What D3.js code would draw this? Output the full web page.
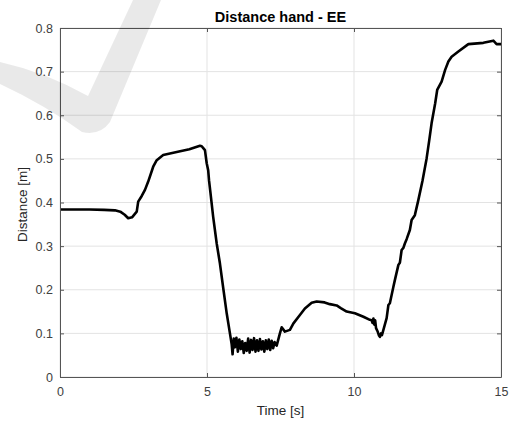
<!DOCTYPE html>
<html>
<head>
<meta charset="utf-8">
<script src="https://cdn.jsdelivr.net/npm/d3@7"></script>
<style>
  body { margin: 0; background: #fff; }
  text { font-family: "Liberation Sans", Arial, sans-serif; }
</style>
</head>
<body>
<script>
const w = 511;
const h = 421;

// chart data
const xTicks = [0, 5, 10, 15];
const yTicks = [0, 0.1, 0.2, 0.3, 0.4, 0.5, 0.6, 0.7, 0.8];

const time = [
  0, 0.5, 1.0, 1.5, 1.87, 2.05, 2.2, 2.32, 2.45, 2.61, 2.66, 2.78, 2.89, 3.0, 3.17, 3.29, 3.51, 3.97, 4.4, 4.76, 4.82, 4.88, 4.93, 4.99, 5.04, 5.07, 5.12, 5.21, 5.33, 5.44, 5.56, 5.67, 5.78,
  5.84, 5.87, 5.91, 5.95, 6.0, 6.05, 6.1, 6.15, 6.2, 6.25, 6.3, 6.35, 6.4, 6.45, 6.5, 6.55, 6.6, 6.65, 6.7, 6.75, 6.8, 6.85, 6.9, 6.95, 7.0, 7.05, 7.1, 7.15, 7.2, 7.25, 7.3,
  7.37, 7.48, 7.54, 7.65, 7.82, 7.94, 8.16, 8.33, 8.56, 8.73, 9.0, 9.18, 9.41, 9.55, 9.75, 10.03, 10.32, 10.54,
  10.6, 10.63, 10.66, 10.69, 10.72, 10.75, 10.8, 10.85, 10.88, 10.92, 10.95, 11.0,
  11.11, 11.17, 11.22, 11.34, 11.39, 11.51, 11.56, 11.62, 11.68, 11.73, 11.79, 11.9, 11.96, 12.07, 12.19, 12.33, 12.47, 12.56, 12.64, 12.76, 12.83, 12.98, 13.1, 13.21, 13.32, 13.55, 13.89, 14.4, 14.74, 14.85, 15.0
];

const distance = [
  0.384, 0.384, 0.384, 0.383, 0.382, 0.379, 0.372, 0.364, 0.366, 0.379, 0.402, 0.415, 0.429, 0.448, 0.482, 0.497, 0.509, 0.516, 0.522, 0.530, 0.529, 0.524, 0.52, 0.49, 0.474, 0.45, 0.421, 0.367, 0.306, 0.26, 0.2, 0.146, 0.1,
  0.075, 0.052, 0.088, 0.068, 0.09, 0.058, 0.086, 0.064, 0.082, 0.055, 0.078, 0.06, 0.088, 0.056, 0.085, 0.062, 0.089, 0.058, 0.084, 0.06, 0.087, 0.063, 0.082, 0.058, 0.084, 0.064, 0.086, 0.062, 0.083, 0.066, 0.08,
  0.072, 0.1, 0.114, 0.104, 0.108, 0.123, 0.142, 0.157, 0.170, 0.173, 0.171, 0.167, 0.164, 0.158, 0.15, 0.146, 0.138, 0.131,
  0.13, 0.124, 0.134, 0.12, 0.13, 0.112, 0.105, 0.095, 0.092, 0.1, 0.096, 0.108,
  0.135, 0.165, 0.169, 0.207, 0.222, 0.257, 0.262, 0.291, 0.296, 0.306, 0.316, 0.337, 0.36, 0.371, 0.406, 0.45, 0.501, 0.543, 0.582, 0.627, 0.658, 0.677, 0.704, 0.723, 0.734, 0.746, 0.763, 0.766, 0.771, 0.763, 0.763
];

const dataset = time.map((t, i) => ({ t: t, d: distance[i] }));

const margin = { top: 28, right: 10, bottom: 44, left: 60 };
const iw = w - margin.left - margin.right;
const ih = h - margin.top - margin.bottom;

let svg = d3.select("body")
            .append("svg")
            .attr("width", w)
            .attr("height", h);

let x = d3.scaleLinear().domain([0, 15]).range([0, iw]);
let y = d3.scaleLinear().domain([0, 0.8]).range([ih, 0]);

let g = svg.append("g").attr("transform", `translate(${margin.left},${margin.top})`);

// grid
g.append("g")
 .selectAll("line.gx")
 .data(xTicks)
 .enter().append("line")
 .attr("x1", d => x(d)).attr("x2", d => x(d))
 .attr("y1", 0).attr("y2", ih)
 .attr("stroke", "#e3e3e3");

g.append("g")
 .selectAll("line.gy")
 .data(yTicks)
 .enter().append("line")
 .attr("x1", 0).attr("x2", iw)
 .attr("y1", d => y(d)).attr("y2", d => y(d))
 .attr("stroke", "#e3e3e3");

// data line
let line = d3.line().x(d => x(d.t)).y(d => y(d.d));
g.append("path")
 .datum(dataset)
 .attr("fill", "none")
 .attr("stroke", "#000")
 .attr("stroke-width", 2.6)
 .attr("stroke-linejoin", "round")
 .attr("d", line);

// axes, ticks pointing inward
function styleAxis(sel) {
  sel.select(".domain").attr("stroke", "#555").attr("stroke-width", 1);
  sel.selectAll(".tick line").attr("stroke", "#555");
  sel.selectAll(".tick text")
     .attr("fill", "#404040")
     .style("font-size", "12.5px")
     .style("font-family", "'Liberation Sans', Arial, sans-serif");
}

g.append("g")
 .attr("transform", `translate(0,${ih})`)
 .call(d3.axisBottom(x).tickValues(xTicks).tickFormat(d3.format("d")).tickSizeInner(-4).tickSizeOuter(0).tickPadding(10))
 .call(styleAxis);

g.append("g")
 .call(d3.axisLeft(y).tickValues(yTicks).tickFormat(d => d === 0 ? "0" : d3.format(".1f")(d)).tickSizeInner(-4).tickSizeOuter(0).tickPadding(7))
 .call(styleAxis);

g.append("g")
 .call(d3.axisTop(x).tickValues(xTicks).tickFormat("").tickSizeInner(-4).tickSizeOuter(0))
 .call(styleAxis);

g.append("g")
 .attr("transform", `translate(${iw},0)`)
 .call(d3.axisRight(y).tickValues(yTicks).tickFormat("").tickSizeInner(-4).tickSizeOuter(0))
 .call(styleAxis);

// title and labels
svg.append("text")
   .attr("x", margin.left + iw / 2)
   .attr("y", 22)
   .attr("text-anchor", "middle")
   .attr("font-weight", "bold")
   .attr("font-size", "14.5px")
   .attr("fill", "#000")
   .text("Distance hand - EE");

svg.append("text")
   .attr("x", margin.left + iw / 2)
   .attr("y", 415)
   .attr("text-anchor", "middle")
   .attr("font-size", "13.5px")
   .attr("fill", "#262626")
   .text("Time [s]");

svg.append("text")
   .attr("transform", `translate(27,${margin.top + ih / 2 + 2}) rotate(-90)`)
   .attr("text-anchor", "middle")
   .attr("font-size", "13.5px")
   .attr("fill", "#262626")
   .text("Distance [m]");

// faint check-mark watermark over the top left corner
svg.append("path")
   .attr("d", "M0,62 Q45,72 88,96 L133,0 L161,0 L110,122 Q100,136 82,132 Q45,105 0,84 Z")
   .attr("fill", "#000")
   .attr("fill-opacity", 0.085);
</script>
</body>
</html>
